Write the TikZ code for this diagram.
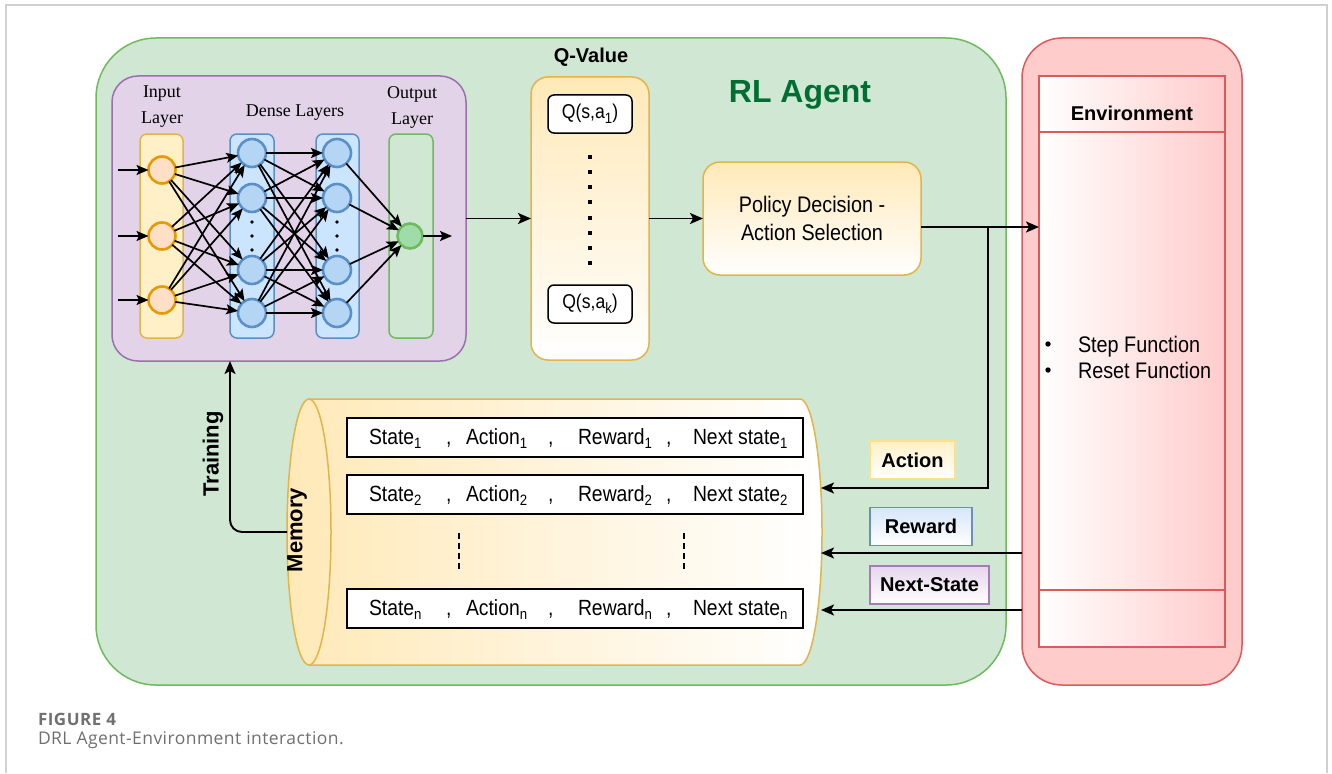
\documentclass[tikz,border=0pt]{standalone}
\usepackage{fontspec}
\setmainfont{Liberation Sans}
\newfontfamily\condfont[FakeStretch=0.88]{Liberation Sans}
\newfontfamily\tmsfont{Liberation Serif}
\newfontfamily\capfont[LetterSpace=2.5]{Open Sans}
\newfontfamily\capbold[LetterSpace=3]{Open Sans}
\usetikzlibrary{arrows.meta,calc}
\definecolor{agentfill}{HTML}{CFE7D3}
\definecolor{agentline}{HTML}{6DBB5C}
\definecolor{rlgreen}{HTML}{006E32}
\definecolor{nnfill}{HTML}{E2D3E8}
\definecolor{nnline}{HTML}{9C6FAE}
\definecolor{yfill}{HTML}{FFF0C8}
\definecolor{yline}{HTML}{E3B448}
\definecolor{ocircline}{HTML}{E69A00}
\definecolor{ocircfill}{HTML}{FFDFC6}
\definecolor{bfill}{HTML}{CCE5FF}
\definecolor{bline}{HTML}{5B8FC7}
\definecolor{bcircfill}{HTML}{B5D5F5}
\definecolor{gfill}{HTML}{CFE7D3}
\definecolor{gline}{HTML}{6DBB5C}
\definecolor{gcircfill}{HTML}{9FDCA8}
\definecolor{qtop}{HTML}{FFE9B8}
\definecolor{envfill}{HTML}{FFCCCC}
\definecolor{envline}{HTML}{DD5A5A}
\definecolor{actline}{HTML}{FFE08A}
\definecolor{rewtop}{HTML}{D6E6FB}
\definecolor{rewline}{HTML}{6C8EBF}
\definecolor{nstop}{HTML}{E6D6EC}
\definecolor{nsline}{HTML}{A77BB5}
\definecolor{capgray}{HTML}{707070}
\definecolor{framegray}{HTML}{D0D0D0}
\newcommand\lowidx[1]{\raisebox{-4.5pt}{\fontsize{15}{15}\selectfont#1}}
\begin{document}
\begin{tikzpicture}[x=1pt,y=-1pt,
  every node/.style={inner sep=0pt, outer sep=0pt},
  arr/.style={-{Stealth[length=13pt,width=11pt,inset=3pt]}, line width=1.9pt},
  nnarr/.style={-{Stealth[length=12pt,width=10pt,inset=2.5pt]}, line width=1.7pt},
  agentbox/.style={draw=agentline, fill=agentfill, line width=1.5pt, rounded corners=60pt},
  nnbox/.style={draw=nnline, fill=nnfill, line width=1.5pt, rounded corners=26pt},
  colbox/.style={line width=1.5pt, rounded corners=7pt, minimum width=44pt, minimum height=204pt},
  incirc/.style={circle, draw=ocircline, fill=ocircfill, line width=2.6pt, minimum size=27pt},
  dcirc/.style={circle, draw=bline, fill=bcircfill, line width=2.6pt, minimum size=28pt},
  gcirc/.style={circle, draw=gline, fill=gcircfill, line width=2.6pt, minimum size=25pt},
  serifl/.style={font=\tmsfont\fontsize{18}{26}\selectfont, align=center},
  ybox/.style={draw=yline, top color=qtop, bottom color=white, line width=1.5pt, rounded corners=17pt},
  qitem/.style={draw, fill=white, rounded corners=6pt, line width=1.5pt, minimum width=84pt, minimum height=38pt, font=\condfont\fontsize{20}{22}\selectfont},
  rowbox/.style={draw, fill=white, line width=1.8pt, minimum width=456pt, minimum height=39pt},
  rowtxt/.style={anchor=base west, font=\condfont\fontsize{22}{26}\selectfont},
  lab/.style={line width=1.5pt, font=\bfseries\fontsize{20}{24}\selectfont, minimum height=38pt},
  bold20/.style={font=\bfseries\fontsize{20}{24}\selectfont},
  bold22/.style={font=\bfseries\fontsize{22}{26}\selectfont}
]
\useasboundingbox (0,0) rectangle (1332,773);
\fill[white] (0,0) rectangle (1332,773);
\draw[framegray, line width=1.2pt] (6,773) -- (6,5) -- (1327,5) -- (1327,773);

% RL agent
\node[agentbox, minimum width=910pt, minimum height=647pt] (agent) at (551,361.5) {};
\node[font=\bfseries\fontsize{32}{36}\selectfont, text=rlgreen] (rltitle) at (800,95) {RL Agent};

% neural network
\node[nnbox, minimum width=354pt, minimum height=285pt] (nn) at (289,218.5) {};
\node[serifl] (inlab) at (162,107) {Input\\Layer};
\node[serifl] (dlab) at (295,113) {Dense Layers};
\node[serifl] (outlab) at (412,107) {Output\\Layer};
\node[colbox, draw=yline, fill=yfill, minimum width=43pt] (incol) at (161.5,236) {};
\node[colbox, draw=bline, fill=bfill] (d1col) at (252,236) {};
\node[colbox, draw=bline, fill=bfill, minimum width=43pt] (d2col) at (337.5,236) {};
\node[colbox, draw=gline, fill=gfill] (outcol) at (411,236) {};
\foreach \n/\y in {1/170,2/236,3/300} \node[incirc] (i\n) at (162,\y) {};
\foreach \n/\y in {1/153,2/198,3/270,4/313} {
  \node[dcirc] (a\n) at (252,\y) {};
  \node[dcirc] (b\n) at (337,\y) {};
}
\node[gcirc] (o) at (410,236) {};
\foreach \x in {252,337} \foreach \y in {222,236,250} \fill (\x,\y) circle (1.8pt);
\foreach \n/\y in {1/170,2/236,3/300} {
  \coordinate (s\n) at (118,\y);
  \draw[nnarr] (s\n) -- (i\n);
}
\foreach \i in {1,2,3} \foreach \j in {1,...,4} \draw[nnarr] (i\i) -- (a\j);
\foreach \i in {1,...,4} \foreach \j in {1,...,4} \draw[nnarr] (a\i) -- (b\j);
\foreach \i in {1,...,4} \draw[nnarr] (b\i) -- (o);
\coordinate (oe) at (452,236);
\draw[nnarr] (o) -- (oe);

% Q values
\node[ybox, minimum width=118pt, minimum height=283pt] (qv) at (590,218.5) {};
\node[font=\bfseries\fontsize{20}{22}\selectfont] (qvlab) at (591,57) {Q-Value};
\node[qitem] (q1) at (590,114) {Q(s,a\lowidx{1})};
\node[qitem] (qk) at (590,304) {Q(s,a\lowidx{k})};
\foreach \y in {157,172,187,202,218,233,248,263} \fill (588.2,\y-1.9) rectangle (591.8,\y+1.9);

% policy
\node[ybox, minimum width=218pt, minimum height=113pt, align=center, font=\condfont\fontsize{22.5}{28}\selectfont] (pol) at (812,218.5) {Policy Decision -\\Action Selection};

% environment
\node[draw=envline, fill=envfill, line width=1.5pt, rounded corners=40pt, minimum width=220pt, minimum height=647pt] (envo) at (1132,361.5) {};
\node[draw=envline, left color=white, right color=envfill, line width=1.5pt, minimum width=186pt, minimum height=571pt] (envin) at (1132,361.5) {};
\draw[envline, line width=1.5pt] (envin.west |- 0,132) -- (envin.east |- 0,132);
\draw[envline, line width=1.5pt] (envin.west |- 0,590) -- (envin.east |- 0,590);
\node[bold20] (envt) at (1132,113) {Environment};
\fill (1048,344) circle (2.7pt);
\fill (1048,370) circle (2.7pt);
\node[rowtxt, font=\condfont\fontsize{22.5}{26}\selectfont] (stepf) at (1078,352) {Step Function};
\node[rowtxt, font=\condfont\fontsize{22.5}{26}\selectfont] (resetf) at (1078,378) {Reset Function};

% memory cylinder
\node[minimum width=535pt, minimum height=266pt] (mem) at (554.5,532) {};
\path[draw=yline, line width=1.5pt, left color=qtop, right color=white]
  (309,399) -- (800,399) arc[start angle=-90, end angle=90, x radius=22, y radius=133]
  -- (309,665) arc[start angle=90, end angle=270, x radius=22, y radius=133] -- cycle;
\draw[yline, line width=1.5pt] (309,399) arc[start angle=-90, end angle=90, x radius=22, y radius=133];
\node[rotate=90, bold22] (meml) at (297,530) {Memory};

\node[rowbox] (r1) at (575,437.5) {};
\node[rowbox] (r2) at (575,494.5) {};
\node[rowbox] (rn) at (575,608.5) {};
\foreach \s/\y in {1/444,2/501,n/615} {
  \node[rowtxt] (st\s) at (369,\y) {State\lowidx{\s}};
  \node[rowtxt] (ca\s) at (446,\y) {,};
  \node[rowtxt] (ac\s) at (466,\y) {Action\lowidx{\s}};
  \node[rowtxt] (cb\s) at (548,\y) {,};
  \node[rowtxt] (rw\s) at (578,\y) {Reward\lowidx{\s}};
  \node[rowtxt] (cc\s) at (666,\y) {,};
  \node[rowtxt] (ns\s) at (693,\y) {Next state\lowidx{\s}};
}
\draw[line width=1.4pt, dash pattern=on 6pt off 4pt] (459,533) -- (459,571);
\draw[line width=1.4pt, dash pattern=on 6pt off 4pt] (684,533) -- (684,571);

% training
\draw[arr, rounded corners=12pt] (mem.west) -| ([xshift=-59pt]nn.south);
\node[rotate=90, bold22] (trl) at (213,454) {Training};

% connectors agent <-> environment
\draw[arr] (nn.east) -- (qv.west);
\draw[arr] (qv.east) -- (pol.west);
\coordinate (pa) at ([yshift=-8.5pt]pol.east);
\draw[arr] (pa) -- (pa -| envin.west);
\coordinate (br) at (988,227);
\coordinate (acttip) at (821,488);
\coordinate (rwtip) at (821,553);
\coordinate (nstip) at (821,610);
\draw[arr] (br) |- (acttip);
\draw[arr] (envo.west |- rwtip) -- (rwtip);
\draw[arr] (envo.west |- nstip) -- (nstip);

\node[lab, draw=actline, top color=yfill, bottom color=white, minimum width=85pt] (actl) at (912.5,460) {Action};
\node[lab, draw=rewline, top color=rewtop, bottom color=white, minimum width=102pt] (rewl) at (921,526.5) {Reward};
\node[lab, draw=nsline, top color=nstop, bottom color=white, minimum width=119pt] (nsl) at (929.5,585) {Next-State};

% caption
\node[anchor=base west, font=\capbold\bfseries\fontsize{17}{18}\selectfont, text=capgray] (fig) at (38,725) {FIGURE 4};
\node[anchor=base west, font=\capfont\fontsize{17.5}{20}\selectfont, text=capgray] (cap) at (38,744) {DRL Agent-Environment interaction.};
\end{tikzpicture}
\end{document}
